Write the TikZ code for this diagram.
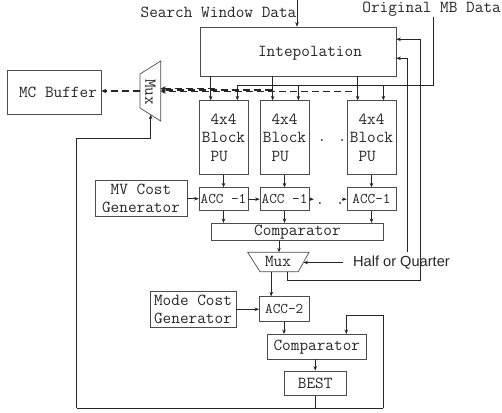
\documentclass[tikz,border=0pt]{standalone}
\usepackage{fontspec}
\newfontfamily\sansf{Liberation Sans}
\usetikzlibrary{arrows.meta,calc}
\begin{document}
\begin{tikzpicture}[x=1pt,y=-1pt,
  box/.style={draw=black!70, line width=0.7pt, inner sep=0pt, text=black!85, font=\ttfamily\fontsize{16.8}{18}\selectfont},
  accbox/.style={box, font=\ttfamily\fontsize{14.8}{16}\selectfont},
  lbl/.style={inner sep=0pt, text=black!85, font=\ttfamily\fontsize{16.8}{18}\selectfont},
  ln/.style={draw=black!85, line width=0.7pt},
  arr/.style={ln, -{Stealth[length=4.5pt,width=3.6pt]}},
  darr/.style={draw=black!85, line width=1.5pt, dash pattern=on 7pt off 4pt, -{Stealth[length=5pt,width=4.5pt]}}]
\useasboundingbox (0,0) rectangle (502,412);

% ---- boxes ----
\node[box, minimum width=196pt, minimum height=49pt] (interp) at (298,51.5) {};
\node[lbl] (interpt) at (310,53) {Intepolation};

\node[box, minimum width=49pt, minimum height=74pt, align=left, font=\ttfamily\fontsize{16.8}{18.6}\selectfont] (blk1) at (223.5,137.7) {\phantom{B}4x4\\Block\\\phantom{B}PU};
\node[box, minimum width=49pt, minimum height=74pt, align=left, font=\ttfamily\fontsize{16.8}{18.6}\selectfont] (blk2) at (284.5,137.7) {\phantom{B}4x4\\Block\\\phantom{B}PU};
\node[box, minimum width=49pt, minimum height=74pt, align=left, font=\ttfamily\fontsize{16.8}{18.6}\selectfont] (blk3) at (371.5,137.7) {\phantom{B}4x4\\Block\\\phantom{B}PU};
\node[lbl, anchor=base] (dots1) at (332,141) {. .};

\node[accbox, minimum width=49pt, minimum height=23pt] (a1) at (223.5,199.2) {ACC -1};
\node[accbox, minimum width=49pt, minimum height=23pt] (a2) at (284.5,199.2) {ACC -1};
\node[accbox, minimum width=49pt, minimum height=23pt] (a3) at (371.5,199.2) {ACC-1};
\node[lbl, anchor=base] (dots2) at (330,204) {. .};

\node[box, minimum width=92pt, minimum height=36pt, align=center] (mvc) at (141,198.7) {MV Cost\\Generator};
\node[box, minimum width=171.6pt, minimum height=17.4pt] (comp1) at (297.5,232) {Comparator};

\node[box, minimum width=94pt, minimum height=44pt] (mcbuf) at (54,92) {\hspace*{8pt}MC Buffer};

\node[box, minimum width=86pt, minimum height=36.7pt, align=center] (modec) at (193,309.3) {Mode Cost\\Generator};
\node[accbox, minimum width=49.7pt, minimum height=25pt] (accb) at (284.2,309.2) {ACC-2};
\node[box, minimum width=98.3pt, minimum height=24.7pt] (comp2) at (316.8,346.7) {Comparator};
\node[box, minimum width=61.7pt, minimum height=24.7pt] (best) at (315.2,383.3) {BEST};

% ---- muxes ----
\coordinate (m1a) at (140,74);
\coordinate (m1b) at (160.7,61);
\coordinate (m1c) at (160.7,121);
\coordinate (m1d) at (140,108);
\draw[draw=black!70, line width=0.7pt] (m1a) -- (m1b) -- (m1c) -- (m1d) -- cycle;
\node[lbl, rotate=-90] (mux1) at (150.5,92) {Mux};

\coordinate (m2a) at (247.7,252.3);
\coordinate (m2b) at (309,252.3);
\coordinate (m2c) at (298.3,271.7);
\coordinate (m2d) at (260,271.7);
\draw[draw=black!70, line width=0.7pt] (m2a) -- (m2b) -- (m2c) -- (m2d) -- cycle;
\node[lbl] (mux2) at (278,261.5) {Mux};

% ---- labels ----
\node[lbl] (swd) at (218.5,12) {Search Window Data};
\node[lbl, anchor=east] (omb) at (501,9.5) {Original MB Data};
\node[lbl, font=\sansf\fontsize{14.6}{18}\selectfont, anchor=west] (hq) at (353,263) {Half or Quarter};

% ---- connectors ----
\coordinate (swtop) at (297,0);
\draw[arr] (swtop) -- (swtop |- interp.north);

\coordinate (ombtop) at (433,17);
\coordinate (ombL) at (237,85);
\draw[ln] (ombtop) |- (ombL);

\coordinate (o1) at ($(blk1.north east)+(-11,0)$);
\coordinate (o2) at ($(blk2.north east)+(-11,0)$);
\coordinate (o3) at ($(blk3.north east)+(-13,0)$);
\draw[arr] (o1 |- ombL) -- (o1);
\draw[arr] (o2 |- ombL) -- (o2);
\draw[arr] (o3 |- ombL) -- (o3);

\coordinate (i1) at ($(blk1.north west)+(12,0)$);
\coordinate (i2) at ($(blk2.north west)+(13,0)$);
\coordinate (i3) at ($(blk3.north west)+(11,0)$);
\draw[arr] (i1 |- interp.south) -- (i1);
\draw[arr] (i2 |- interp.south) -- (i2);
\draw[arr] (i3 |- interp.south) -- (i3);

% dashed MC data paths
\coordinate (dA) at (352,91.5);
\coordinate (dB) at (272,90);
\coordinate (dC) at (215,88.5);
\draw[darr] (dA) -- (dA -| m1b);
\draw[darr] (dB) -- (dB -| m1b);
\draw[darr] (dC) -- (dC -| m1b);
\coordinate (m1out) at (140,91);
\draw[darr] (m1out) -- (m1out -| mcbuf.east);

% blocks -> acc
\draw[arr] (blk1.south) -- (a1.north);
\draw[arr] (blk2.south) -- (a2.north);
\draw[arr] (blk3.south) -- (a3.north);

\draw[arr] (mvc.east) -- (mvc.east -| a1.west);
\draw[arr] (a1.east) -- (a2.west);
\coordinate (a2x) at ($(a2.east)+(4.5,0)$);
\draw[arr] (a2.east) -- (a2x);
\coordinate (a3x) at ($(a3.west)+(-5,0)$);
\draw[arr] (a3x) -- (a3.west);

\draw[arr] (a1.south) -- (a1.south |- comp1.north);
\draw[arr] (a2.south) -- (a2.south |- comp1.north);
\draw[arr] (a3.south) -- (a3.south |- comp1.north);

\coordinate (m2in) at (279,252.3);
\draw[arr] (m2in |- comp1.south) -- (m2in);

\coordinate (hqs) at (343,262.5);
\coordinate (m2r) at (303.5,262.5);
\draw[arr] (hqs) -- (m2r);

% feedback to interpolation
\coordinate (ie1) at ($(interp.east)+(0,-12.2)$);
\coordinate (ie2) at ($(interp.east)+(0,6.8)$);
\coordinate (fbQ) at (407.3,252);
\draw[arr] (fbQ) |- (ie2);
\coordinate (m2o) at (287.3,271.7);
\coordinate (rt) at (420.7,280.7);
\draw[arr] (m2o) |- (rt) |- (ie1);

% lower part
\coordinate (a2in) at ($(accb.north west)+(12.2,0)$);
\draw[arr] (a2in |- m2d) -- (a2in);
\draw[arr] (modec.east) -- (modec.east -| accb.west);
\coordinate (c2in) at ($(comp2.north west)+(16.7,0)$);
\draw[arr] (c2in |- accb.south) -- (c2in);
\draw[arr] (best.north |- comp2.south) -- (best.north);

\coordinate (loopL) at (76.7,408.3);
\coordinate (loopR) at (383.3,408.3);
\coordinate (loopRt) at (383.3,315);
\coordinate (loopLt) at (76.7,138);
\coordinate (c2fb) at ($(comp2.north east)+(-20,0)$);
\coordinate (m1in) at (150.7,114.7);
\draw[ln] (best.south) -- (best.south |- loopL);
\draw[ln] (loopL) -- (loopR);
\draw[arr] (loopR) -- (loopRt) -| (c2fb);
\draw[arr] (loopL) -- (loopLt) -| (m1in);
\end{tikzpicture}
\end{document}
